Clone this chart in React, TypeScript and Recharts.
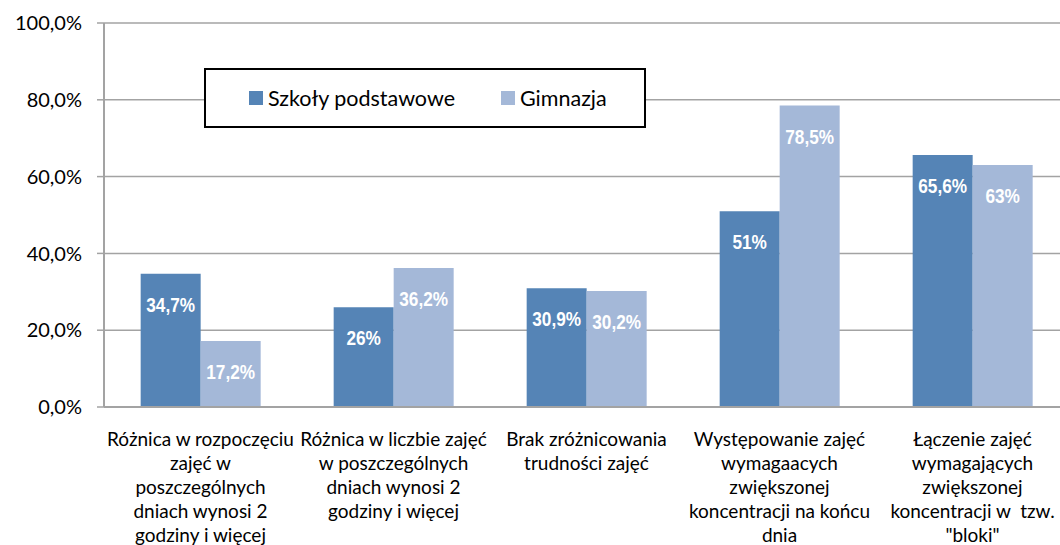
import { Bar, BarChart, CartesianGrid, LabelList, XAxis, YAxis } from "recharts";

const categories = [
  "Różnica w rozpoczęciu\nzajęć w\nposzczególnych\ndniach wynosi 2\ngodziny i więcej",
  "Różnica w liczbie zajęć\nw poszczególnych\ndniach wynosi 2\ngodziny i więcej",
  "Brak zróżnicowania\ntrudności zajęć",
  "Występowanie zajęć\nwymagaacych\nzwiększonej\nkoncentracji na końcu\ndnia",
  "Łączenie zajęć\nwymagających\nzwiększonej\nkoncentracji w  tzw.\n\"bloki\"",
];
const podstawowe = [34.7, 26, 30.9, 51, 65.6];
const gimnazja = [17.2, 36.2, 30.2, 78.5, 63];
const yTicks = [0, 20, 40, 60, 80, 100];

const series = [
  { key: "podst", name: "Szkoły podstawowe", color: "#5584B6" },
  { key: "gim", name: "Gimnazja", color: "#A4B8D8" },
];

const data = categories.map((c, i) => ({ c, podst: podstawowe[i], gim: gimnazja[i] }));

const axisFont = "Lato, 'Open Sans', sans-serif";
const grid = "#A3A3A3";

const fmtTick = (v: number) => v.toFixed(1).replace(".", ",") + "%";
const fmtVal = (v: number) => String(v).replace(".", ",") + "%";

function CatTick({ x, y, payload }: any) {
  const lines = String(payload.value).split("\n");
  return (
    <text x={x} y={y} textAnchor="middle" fontFamily={axisFont} fontSize={19} fill="#000">
      {lines.map((l, i) => (
        <tspan key={i} x={x} dy={i === 0 ? 31 : 24} style={{ whiteSpace: "pre" }}>
          {l}
        </tspan>
      ))}
    </text>
  );
}

// narrow bold label, squeezed horizontally like Arial Narrow
function ValueLabel({ x, y, width, value }: any) {
  return (
    <g transform={`translate(${x + width / 2}, ${y + 31}) scale(0.82, 1)`}>
      <text
        x={0}
        y={0}
        textAnchor="middle"
        dominantBaseline="central"
        fill="#fff"
        fontWeight="bold"
        fontSize={21}
        fontFamily="'Liberation Sans', Arial, sans-serif"
      >
        {fmtVal(value)}
      </text>
    </g>
  );
}

// legend box sits over the plot, so it is drawn outside the chart layout
function LegendBox() {
  return (
    <div
      style={{
        position: "absolute",
        left: 204,
        top: 68,
        width: 442,
        height: 60,
        border: "2px solid #000",
        background: "#fff",
        boxSizing: "border-box",
        display: "flex",
        alignItems: "center",
        fontFamily: axisFont,
        fontSize: 21.5,
        color: "#000",
      }}
    >
      {series.map((s, i) => (
        <div
          key={s.key}
          style={{ display: "flex", alignItems: "center", marginLeft: i === 0 ? 43 : 46 }}
        >
          <span style={{ width: 14, height: 14, background: s.color, marginRight: 5 }} />
          <span>{s.name}</span>
        </div>
      ))}
    </div>
  );
}

export default function App() {
  return (
    <div
      style={{
        position: "absolute",
        left: 0,
        top: 0,
        width: 1060,
        height: 545,
        overflow: "hidden",
        background: "#fff",
      }}
    >
      <BarChart
        width={1075}
        height={545}
        data={data}
        margin={{ top: 23, right: 6, left: 0, bottom: 0 }}
        barCategoryGap="19%"
        barGap={0}
      >
        <CartesianGrid stroke={grid} strokeWidth={1.5} vertical={false} />
        <XAxis
          dataKey="c"
          interval={0}
          tickLine={false}
          axisLine={{ stroke: grid, strokeWidth: 2 }}
          tick={<CatTick />}
          height={138}
        />
        <YAxis
          width={104}
          domain={[0, 100]}
          ticks={yTicks}
          tickFormatter={fmtTick}
          tickSize={7}
          tickMargin={15}
          tickLine={{ stroke: grid, strokeWidth: 1.5 }}
          axisLine={{ stroke: grid, strokeWidth: 2 }}
          tick={{ fontFamily: axisFont, fontSize: 20, fill: "#000" }}
        />
        {series.map((s) => (
          <Bar key={s.key} dataKey={s.key} name={s.name} fill={s.color} isAnimationActive={false}>
            <LabelList dataKey={s.key} content={<ValueLabel />} />
          </Bar>
        ))}
      </BarChart>
      <LegendBox />
    </div>
  );
}
